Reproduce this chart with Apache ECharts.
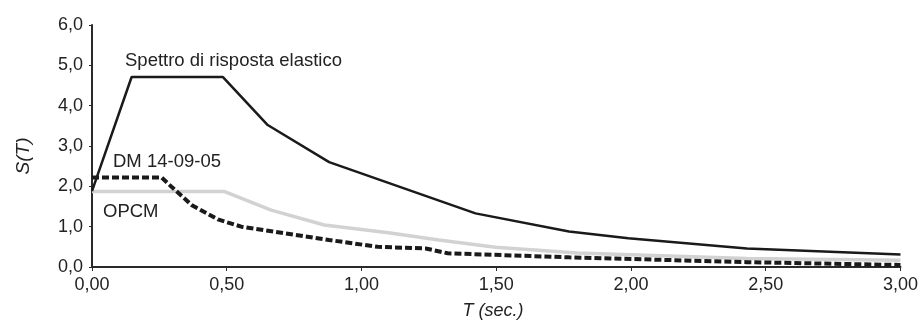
<!DOCTYPE html>
<html>
<head>
<meta charset="utf-8">
<script src="https://cdn.jsdelivr.net/npm/echarts@6/dist/echarts.min.js"></script>
<style>
html,body{margin:0;padding:0;background:#fff;}
#chart{width:921px;height:321px;}
</style>
</head>
<body>
<div id="chart"></div>
<script>
// Data
var elasticT = [0, 0.147, 0.486, 0.652, 0.88, 1.423, 1.77, 1.99, 2.43, 3.0];
var elasticS = [1.88, 4.71, 4.71, 3.52, 2.60, 1.33, 0.88, 0.71, 0.46, 0.31];

var dmT = [0, 0.258, 0.295, 0.369, 0.467, 0.554, 0.88, 1.06, 1.238, 1.32, 1.77, 2.43, 3.0];
var dmS = [2.22, 2.22, 1.99, 1.54, 1.18, 1.00, 0.67, 0.50, 0.46, 0.34, 0.24, 0.12, 0.05];

var opcmT = [0, 0.492, 0.665, 0.862, 1.10, 1.287, 1.497, 1.8, 2.43, 3.0];
var opcmS = [1.87, 1.87, 1.41, 1.04, 0.85, 0.67, 0.49, 0.35, 0.21, 0.17];

var xTicks = [0, 0.5, 1, 1.5, 2, 2.5, 3];
var yTicks = [0, 1, 2, 3, 4, 5, 6];

var labelElastic = 'Spettro di risposta elastico';
var labelDM = 'DM 14-09-05';
var labelOPCM = 'OPCM';
var xName = 'T (sec.)';
var yName = 'S(T)';

function pairs(xs, ys) { return xs.map(function (x, i) { return [x, ys[i]]; }); }

var chart = echarts.init(document.getElementById('chart'), null, {renderer: 'canvas'});
var font = 'Liberation Sans, Arial, Helvetica, sans-serif';
var txt = '#222';

chart.setOption({
  animation: false,
  backgroundColor: '#fff',
  grid: {left: 92, right: 18, top: 25, bottom: 54, containLabel: false},
  xAxis: {
    type: 'value',
    min: xTicks[0], max: xTicks[xTicks.length - 1], interval: 0.5,
    axisLine: {show: true, lineStyle: {color: '#2a2a2a', width: 2}},
    axisTick: {show: true, length: 4, lineStyle: {color: '#2a2a2a', width: 1}},
    splitLine: {show: false},
    axisLabel: {
      color: txt, fontFamily: font, fontSize: 18, margin: 9,
      formatter: function (v) { return v.toFixed(2).replace('.', ','); }
    }
  },
  yAxis: {
    type: 'value',
    min: yTicks[0], max: yTicks[yTicks.length - 1], interval: 1,
    axisLine: {show: true, lineStyle: {color: '#2a2a2a', width: 2}},
    axisTick: {show: true, length: 3, lineStyle: {color: '#2a2a2a', width: 1}},
    splitLine: {show: false},
    axisLabel: {
      color: txt, fontFamily: font, fontSize: 18, margin: 9,
      formatter: function (v) { return v.toFixed(1).replace('.', ','); }
    }
  },
  series: [
    {
      name: labelOPCM, type: 'line', data: pairs(opcmT, opcmS),
      showSymbol: false, symbol: 'none', z: 2,
      lineStyle: {color: '#d2d2d2', width: 3.5, type: 'solid'}
    },
    {
      name: labelDM, type: 'line', data: pairs(dmT, dmS),
      showSymbol: false, symbol: 'none', z: 3,
      lineStyle: {color: '#1a1a1a', width: 4, type: [7, 3]}
    },
    {
      name: labelElastic, type: 'line', data: pairs(elasticT, elasticS),
      showSymbol: false, symbol: 'none', z: 4,
      lineStyle: {color: '#1a1a1a', width: 2.5, type: 'solid'}
    }
  ],
  graphic: [
    {type: 'text', left: 125, top: 51, style: {text: labelElastic, font: '18.5px ' + font, fill: txt}},
    {type: 'text', left: 113, top: 152, style: {text: labelDM, font: '18.5px ' + font, fill: txt}},
    {type: 'text', left: 103, top: 202, style: {text: labelOPCM, font: '18.5px ' + font, fill: txt}},
    {type: 'text', x: 493, y: 311, style: {text: xName, font: 'italic 18px ' + font, fill: txt, align: 'center', verticalAlign: 'middle'}},
    {type: 'text', x: 24, y: 156, rotation: Math.PI / 2, style: {text: yName, font: 'italic 19px ' + font, fill: txt, align: 'center', verticalAlign: 'middle'}}
  ]
});
</script>
</body>
</html>
